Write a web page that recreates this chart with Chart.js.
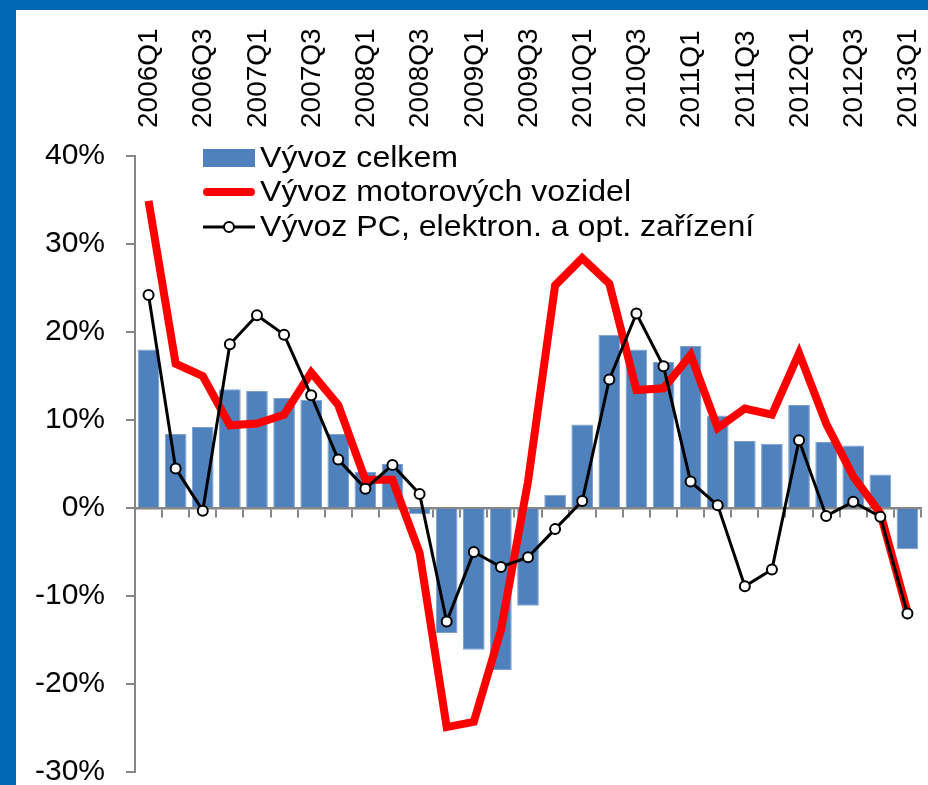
<!DOCTYPE html>
<html>
<head>
<meta charset="utf-8">
<script src="https://cdn.jsdelivr.net/npm/chart.js@4/dist/chart.umd.min.js"></script>
<style>
  html, body { margin: 0; padding: 0; background: #0068b2; }
  #frame {
    position: absolute; left: 16px; top: 10px;
    width: 912px; height: 775px; background: #ffffff;
  }
  canvas { display: block; }
</style>
</head>
<body>
<div id="frame"><canvas id="chart" width="912" height="775"></canvas></div>
<script>
/* ======================
DATA
====================== */

const quarters = [
  "2006Q1", "2006Q2", "2006Q3", "2006Q4",
  "2007Q1", "2007Q2", "2007Q3", "2007Q4",
  "2008Q1", "2008Q2", "2008Q3", "2008Q4",
  "2009Q1", "2009Q2", "2009Q3", "2009Q4",
  "2010Q1", "2010Q2", "2010Q3", "2010Q4",
  "2011Q1", "2011Q2", "2011Q3", "2011Q4",
  "2012Q1", "2012Q2", "2012Q3", "2012Q4",
  "2013Q1"
];

// Vývoz celkem (bars)
const exportTotal = [
  18.0, 8.4, 9.2, 13.5, 13.3, 12.5, 12.3, 8.4, 4.1, 5.0,
  -0.7, -14.2, -16.1, -18.4, -11.1, 1.5, 9.5, 19.7, 18.0, 16.6,
  18.4, 10.5, 7.6, 7.3, 11.7, 7.5, 7.1, 3.8, -4.7
];

// Vývoz motorových vozidel (red line)
const exportMotor = [
  34.9, 16.4, 15.0, 9.4, 9.6, 10.6, 15.4, 11.7, 3.2, 3.2,
  -5.1, -24.9, -24.3, -13.9, 3.0, 25.3, 28.4, 25.5, 13.4, 13.6,
  17.4, 9.1, 11.3, 10.6, 17.6, 9.6, 3.6, -0.6, -11.8
];

// Vývoz PC, elektron. a opt. zařízení (black line with markers)
const exportPC = [
  24.2, 4.5, -0.3, 18.6, 21.9, 19.7, 12.8, 5.5, 2.2, 4.9,
  1.6, -12.9, -5.0, -6.7, -5.6, -2.4, 0.8, 14.6, 22.1, 16.1,
  3.0, 0.3, -8.9, -7.0, 7.7, -0.9, 0.7, -1.0, -12.0
];

const yMin = -30;
const yMax = 40;
const yStep = 10;

/* ======================
STYLE
====================== */

const FONT = "'Liberation Sans', Arial, sans-serif";
const AXIS_GREY = "#868686";

/* ======================
TOP CATEGORY LABELS (every other quarter, rotated)
====================== */

const topLabels = {
  id: "topLabels",
  afterDraw(chart) {
    const ctx = chart.ctx;
    const xScale = chart.scales.x;
    const baseY = chart.chartArea.top - 28;

    ctx.save();
    ctx.font = "28px " + FONT;
    ctx.fillStyle = "#000";
    ctx.textAlign = "left";
    ctx.textBaseline = "middle";
    chart.data.labels.forEach((label, i) => {
      if (i % 2 !== 0) return;
      const x = xScale.getPixelForValue(i);
      ctx.save();
      ctx.translate(x, baseY);
      ctx.rotate(-Math.PI / 2);
      ctx.fillText(label, 0, 1);
      ctx.restore();
    });
    ctx.restore();
  },
};

/* ======================
LEGEND (drawn inside the plot)
====================== */

const insideLegend = {
  id: "insideLegend",
  afterDraw(chart) {
    const ctx = chart.ctx;
    const ds = chart.data.datasets;
    const x0 = 187, x1 = 239, textX = 244;
    const rows = [148, 182, 217];

    ctx.save();
    ctx.font = "30px " + FONT;
    ctx.textBaseline = "middle";

    // bars
    ctx.fillStyle = ds[0].backgroundColor;
    ctx.fillRect(x0, rows[0] - 9, x1 - x0, 18);

    // red line
    ctx.strokeStyle = ds[1].borderColor;
    ctx.lineWidth = ds[1].borderWidth;
    ctx.lineCap = "round";
    ctx.beginPath();
    ctx.moveTo(x0 + 4, rows[1]);
    ctx.lineTo(x1 - 4, rows[1]);
    ctx.stroke();

    // black line with marker
    ctx.strokeStyle = ds[2].borderColor;
    ctx.lineWidth = ds[2].borderWidth;
    ctx.lineCap = "butt";
    ctx.beginPath();
    ctx.moveTo(x0, rows[2]);
    ctx.lineTo(x1, rows[2]);
    ctx.stroke();
    ctx.beginPath();
    ctx.arc((x0 + x1) / 2, rows[2], ds[2].pointRadius, 0, Math.PI * 2);
    ctx.fillStyle = ds[2].pointBackgroundColor;
    ctx.fill();
    ctx.lineWidth = ds[2].pointBorderWidth;
    ctx.strokeStyle = ds[2].pointBorderColor;
    ctx.stroke();

    // labels, slightly widened like the original
    ctx.fillStyle = "#000";
    ds.forEach((d, i) => {
      ctx.save();
      ctx.translate(textX, rows[i] + 1);
      ctx.scale(1.07, 1);
      ctx.fillText(d.label, 0, 0);
      ctx.restore();
    });
    ctx.restore();
  },
};

/* ======================
CHART
====================== */

const chart = new Chart(document.getElementById("chart"), {
  type: "bar",
  data: {
    labels: quarters,
    datasets: [
      {
        type: "bar",
        label: "Vývoz celkem",
        data: exportTotal,
        backgroundColor: "#4f81bd",
        borderColor: "#7d9fcf",
        borderWidth: 1,
        barPercentage: 0.8,
        categoryPercentage: 1.0,
        order: 2,
      },
      {
        type: "line",
        label: "Vývoz motorových vozidel",
        data: exportMotor,
        borderColor: "#ff0000",
        borderWidth: 8,
        pointRadius: 0,
        tension: 0,
        order: 1,
      },
      {
        type: "line",
        label: "Vývoz PC, elektron. a opt. zařízení",
        data: exportPC,
        borderColor: "#000000",
        borderWidth: 3,
        pointRadius: 5,
        pointBackgroundColor: "#ffffff",
        pointBorderColor: "#000000",
        pointBorderWidth: 2,
        tension: 0,
        order: 0,
      },
    ],
  },
  options: {
    responsive: false,
    animation: false,
    devicePixelRatio: 1,
    layout: {
      padding: { left: 17, right: 5, top: 146, bottom: 13 },
    },
    plugins: {
      legend: { display: false },
      tooltip: { enabled: false },
    },
    scales: {
      x: {
        type: "category",
        position: { y: 0 },
        offset: true,
        grid: {
          offset: true,
          drawOnChartArea: false,
          drawTicks: true,
          tickLength: 8,
          color: AXIS_GREY,
          lineWidth: 2,
        },
        border: { color: AXIS_GREY, width: 2.5 },
        ticks: { display: false },
        afterFit: (scale) => {
          scale.height = 0;
        },
      },
      y: {
        type: "linear",
        min: yMin,
        max: yMax,
        grid: {
          drawOnChartArea: false,
          drawTicks: true,
          tickLength: 9,
          color: AXIS_GREY,
          lineWidth: 2,
        },
        border: { color: AXIS_GREY, width: 2 },
        ticks: {
          stepSize: yStep,
          padding: 21,
          color: "#000",
          font: { family: FONT, size: 30 },
          callback: (v) => v + "%",
        },
        afterFit: (scale) => {
          scale.width = 102;
          scale.paddingTop = 0;
          scale.paddingBottom = 0;
        },
      },
    },
  },
  plugins: [topLabels, insideLegend],
});
</script>
</body>
</html>
